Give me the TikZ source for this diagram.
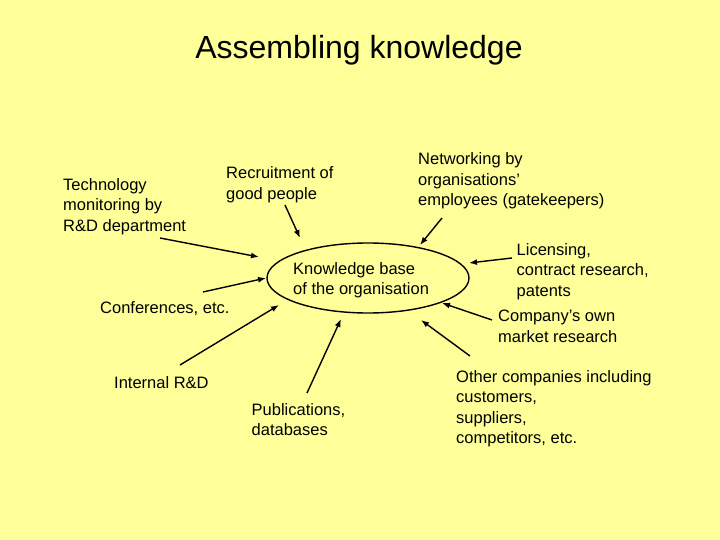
\documentclass[tikz,border=0pt]{standalone}
\usepackage{fontspec}
\setmainfont{Liberation Sans}
\usetikzlibrary{arrows.meta}
\definecolor{bgyellow}{RGB}{255,255,153}
\begin{document}
\begin{tikzpicture}[x=1pt,y=-1pt,
  lbl/.style={anchor=north west,inner sep=0pt,align=left,font=\fontsize{16.5}{20.5}\selectfont},
  arr/.style={line width=1.4pt,-{Latex[length=8pt,width=6pt]}}]
\fill[bgyellow] (0,0) rectangle (720,540);
\useasboundingbox (0,0) rectangle (720,540);
\node[inner sep=0pt,font=\fontsize{32}{38}\selectfont] (title) at (359,50) {Assembling knowledge};
\draw[line width=1.4pt] (368,278) ellipse [x radius=101, y radius=35];
\node[lbl] (kb) at (293,262) {Knowledge base\\of the organisation};
\node[lbl] (tech) at (63,178) {Technology\\monitoring by\\R\&D department};
\node[lbl] (recr) at (226,166.5) {Recruitment of\\good people};
\node[lbl] (netw) at (418,152.5) {Networking by\\organisations’\\employees (gatekeepers)};
\node[lbl] (lic) at (516.5,243) {Licensing,\\contract research,\\patents};
\node[lbl] (mkt) at (498,310) {Company’s own\\market research};
\node[lbl] (conf) at (100,301.5) {Conferences, etc.};
\node[lbl] (intr) at (114,376.5) {Internal R\&D};
\node[lbl] (pub) at (251.5,403) {Publications,\\databases};
\node[lbl] (oth) at (456,370) {Other companies including\\customers,\\suppliers,\\competitors, etc.};
% arrow endpoints
\coordinate (t1) at (160,238); \coordinate (t2) at (259,257);
\coordinate (r1) at (285,205); \coordinate (r2) at (300,238);
\coordinate (n1) at (442,218); \coordinate (n2) at (420,245);
\coordinate (l1) at (512,258); \coordinate (l2) at (469,263);
\coordinate (m1) at (492,320); \coordinate (m2) at (442,303);
\coordinate (o1) at (470,356); \coordinate (o2) at (421,320);
\coordinate (p1) at (307,393); \coordinate (p2) at (341,319);
\coordinate (i1) at (180,365); \coordinate (i2) at (279,305);
\coordinate (c1) at (203,292); \coordinate (c2) at (266,278);
\draw[arr] (t1) -- (t2);
\draw[arr] (r1) -- (r2);
\draw[arr] (n1) -- (n2);
\draw[arr] (l1) -- (l2);
\draw[arr] (m1) -- (m2);
\draw[arr] (o1) -- (o2);
\draw[arr] (p1) -- (p2);
\draw[arr] (i1) -- (i2);
\draw[arr] (c1) -- (c2);
\end{tikzpicture}
\end{document}
